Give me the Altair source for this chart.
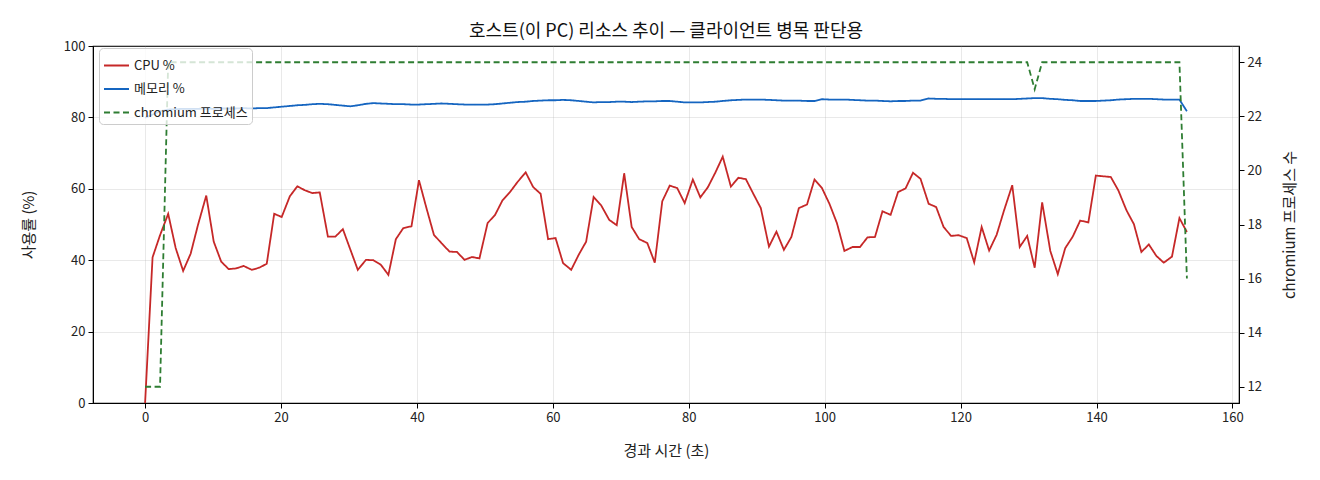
#!/usr/bin/env python3
"""
Host (this PC) resource trend chart: CPU %, memory % and chromium process count
over elapsed time, with a second y axis for the process count.
"""

import pandas as pd
import altair as alt

FONT = 'Noto Sans CJK KR'
RED = '#c62828'
BLUE = '#1565c0'
GREEN = '#2e7d32'

# elapsed seconds for each sample
elapsed = [
    0.0, 1.1, 2.2, 3.4, 4.5, 5.6, 6.7, 7.8, 9.0, 10.1,
    11.2, 12.3, 13.4, 14.5, 15.7, 16.8, 17.9, 19.0, 20.1, 21.3,
    22.4, 23.5, 24.6, 25.7, 26.9, 28.0, 29.1, 30.2, 31.3, 32.5,
    33.6, 34.7, 35.8, 36.9, 38.0, 39.2, 40.3, 41.4, 42.5, 43.6,
    44.8, 45.9, 47.0, 48.1, 49.2, 50.4, 51.5, 52.6, 53.7, 54.8,
    56.0, 57.1, 58.2, 59.3, 60.4, 61.5, 62.7, 63.8, 64.9, 66.0,
    67.1, 68.3, 69.4, 70.5, 71.6, 72.7, 73.9, 75.0, 76.1, 77.2,
    78.3, 79.4, 80.6, 81.7, 82.8, 83.9, 85.0, 86.2, 87.3, 88.4,
    89.5, 90.6, 91.8, 92.9, 94.0, 95.1, 96.2, 97.4, 98.5, 99.6,
    100.7, 101.8, 102.9, 104.1, 105.2, 106.3, 107.4, 108.5, 109.7, 110.8,
    111.9, 113.0, 114.1, 115.3, 116.4, 117.5, 118.6, 119.7, 120.9, 122.0,
    123.1, 124.2, 125.3, 126.4, 127.6, 128.7, 129.8, 130.9, 132.0, 133.2,
    134.3, 135.4, 136.5, 137.6, 138.8, 139.9, 141.0, 142.1, 143.2, 144.4,
    145.5, 146.6, 147.7, 148.8, 149.9, 151.1, 152.2, 153.3,
]

cpu = [
    0.0, 40.8, 47.0, 53.0, 43.4, 37.0, 41.8, 50.0, 58.1, 45.2,
    39.6, 37.5, 37.7, 38.4, 37.3, 37.9, 39.0, 53.0, 52.1, 57.9,
    60.7, 59.6, 58.8, 59.0, 46.6, 46.6, 48.7, 43.0, 37.3, 40.1,
    40.0, 38.7, 35.9, 45.9, 49.0, 49.5, 62.4, 54.6, 47.1, 44.8,
    42.4, 42.3, 40.1, 40.9, 40.5, 50.4, 52.7, 56.8, 59.1, 61.9,
    64.6, 60.5, 58.6, 45.9, 46.2, 39.2, 37.3, 41.5, 45.2, 57.7,
    55.4, 51.3, 49.8, 64.3, 49.3, 45.9, 44.8, 39.3, 56.5, 60.9,
    60.2, 56.0, 62.6, 57.6, 60.4, 64.5, 69.0, 60.6, 63.1, 62.7,
    58.6, 54.6, 43.8, 48.0, 42.9, 46.5, 54.6, 55.6, 62.6, 60.2,
    55.8, 50.4, 42.6, 43.7, 43.7, 46.4, 46.5, 53.7, 52.7, 59.1,
    60.1, 64.5, 62.8, 55.8, 54.9, 49.3, 46.8, 47.0, 46.2, 39.4,
    49.3, 42.7, 47.1, 54.0, 61.0, 43.7, 46.8, 37.9, 56.2, 42.6,
    36.1, 43.4, 46.6, 51.1, 50.6, 63.7, 63.5, 63.3, 59.6, 54.0,
    50.1, 42.3, 44.4, 41.2, 39.3, 41.0, 51.8, 47.9,
]

memory = [
    79.9, 80.8, 81.7, 82.2, 82.3, 82.4, 82.4, 82.4, 82.5, 82.4,
    82.5, 82.5, 82.5, 82.6, 82.5, 82.6, 82.6, 82.8, 83.0, 83.2,
    83.4, 83.5, 83.7, 83.8, 83.7, 83.5, 83.3, 83.1, 83.4, 83.8,
    84.0, 83.9, 83.8, 83.7, 83.7, 83.6, 83.6, 83.7, 83.8, 83.9,
    83.8, 83.7, 83.6, 83.6, 83.6, 83.6, 83.7, 83.9, 84.1, 84.3,
    84.4, 84.6, 84.7, 84.8, 84.8, 84.9, 84.8, 84.6, 84.4, 84.2,
    84.3, 84.3, 84.4, 84.4, 84.3, 84.4, 84.5, 84.5, 84.6, 84.6,
    84.4, 84.2, 84.2, 84.2, 84.3, 84.4, 84.6, 84.8, 84.9, 85.0,
    85.0, 85.0, 84.9, 84.8, 84.7, 84.7, 84.7, 84.6, 84.6, 85.1,
    85.0, 85.0, 85.0, 84.9, 84.8, 84.7, 84.7, 84.6, 84.5, 84.6,
    84.6, 84.7, 84.7, 85.3, 85.2, 85.2, 85.1, 85.1, 85.1, 85.1,
    85.1, 85.1, 85.1, 85.1, 85.1, 85.2, 85.3, 85.4, 85.4, 85.2,
    85.1, 84.9, 84.8, 84.6, 84.6, 84.6, 84.7, 84.8, 85.0, 85.1,
    85.2, 85.2, 85.2, 85.1, 85.0, 85.0, 85.0, 81.7,
]

chromium = [
    12, 12, 12, 24, 24, 24, 24, 24, 24, 24,
    24, 24, 24, 24, 24, 24, 24, 24, 24, 24,
    24, 24, 24, 24, 24, 24, 24, 24, 24, 24,
    24, 24, 24, 24, 24, 24, 24, 24, 24, 24,
    24, 24, 24, 24, 24, 24, 24, 24, 24, 24,
    24, 24, 24, 24, 24, 24, 24, 24, 24, 24,
    24, 24, 24, 24, 24, 24, 24, 24, 24, 24,
    24, 24, 24, 24, 24, 24, 24, 24, 24, 24,
    24, 24, 24, 24, 24, 24, 24, 24, 24, 24,
    24, 24, 24, 24, 24, 24, 24, 24, 24, 24,
    24, 24, 24, 24, 24, 24, 24, 24, 24, 24,
    24, 24, 24, 24, 24, 24, 24, 23, 24, 24,
    24, 24, 24, 24, 24, 24, 24, 24, 24, 24,
    24, 24, 24, 24, 24, 24, 24, 16,
]

series_names = ['CPU %', '메모리 %', 'chromium 프로세스']
x_ticks = [0, 20, 40, 60, 80, 100, 120, 140, 160]
pct_ticks = [0, 20, 40, 60, 80, 100]
count_ticks = [12, 14, 16, 18, 20, 22, 24]

# left axis data in long form (CPU + memory)
left_df = pd.concat([
    pd.DataFrame({'elapsed': elapsed, 'value': cpu, 'series': series_names[0]}),
    pd.DataFrame({'elapsed': elapsed, 'value': memory, 'series': series_names[1]}),
])
right_df = pd.DataFrame({'elapsed': elapsed, 'count': chromium, 'series': series_names[2]})

x_enc = alt.X(
    'elapsed:Q',
    scale=alt.Scale(domain=[-7.665, 160.965], nice=False, zero=False),
    axis=alt.Axis(title='경과 시간 (초)', values=x_ticks, titlePadding=19),
)
color_enc = alt.Color(
    'series:N',
    scale=alt.Scale(domain=series_names, range=[RED, BLUE, GREEN]),
    legend=alt.Legend(title='', orient='none', legendX=6, legendY=2),
)
dash_enc = alt.StrokeDash(
    'series:N',
    scale=alt.Scale(domain=series_names, range=[[1, 0], [1, 0], [6, 3.5]]),
    legend=alt.Legend(title='', orient='none', legendX=6, legendY=2),
)

left = alt.Chart(left_df).mark_line(strokeWidth=1.8, clip=True).encode(
    x=x_enc,
    y=alt.Y('value:Q', scale=alt.Scale(domain=[0, 100], nice=False),
            axis=alt.Axis(title='사용률 (%)', values=pct_ticks, orient='left', titlePadding=27)),
    color=color_enc,
    strokeDash=dash_enc,
)

right = alt.Chart(right_df).mark_line(strokeWidth=1.8, clip=True).encode(
    x=x_enc,
    y=alt.Y('count:Q', scale=alt.Scale(domain=[11.4, 24.6], nice=False, zero=False),
            axis=alt.Axis(title='chromium 프로세스 수', values=count_ticks, orient='right',
                          grid=False, titleAngle=270, titlePadding=36)),
    color=color_enc,
    strokeDash=dash_enc,
)

chart = alt.layer(left, right).resolve_scale(y='independent').properties(
    width=1146,
    height=357,
    autosize=alt.AutoSizeParams(type='none'),
    padding={'left': 85, 'top': 38, 'right': 73, 'bottom': 69},
    title=alt.TitleParams('호스트(이 PC) 리소스 추이 — 클라이언트 병목 판단용',
                          font=FONT, fontSize=18, fontWeight='normal', color='#111111',
                          anchor='middle', frame='group', offset=-1),
).configure_view(
    stroke='#000000', strokeWidth=1.2,
).configure_axis(
    labelFont=FONT, titleFont=FONT, labelFontSize=13, titleFontSize=15,
    labelColor='#222222', titleColor='#222222', titleFontWeight='normal',
    domainColor='#000000', tickColor='#000000', tickSize=5, labelPadding=3,
    gridColor='#b0b0b0', gridOpacity=0.35, gridWidth=0.8,
).configure_legend(
    labelFont=FONT, labelFontSize=13, labelColor='#222222',
    symbolType='stroke', symbolSize=625, symbolStrokeWidth=2,
    fillColor='rgba(255,255,255,0.8)', strokeColor='#cccccc', cornerRadius=4,
    padding=4, rowPadding=2.5,
)

chart.save('out.html', embed_options={'renderer': 'svg', 'actions': False})
